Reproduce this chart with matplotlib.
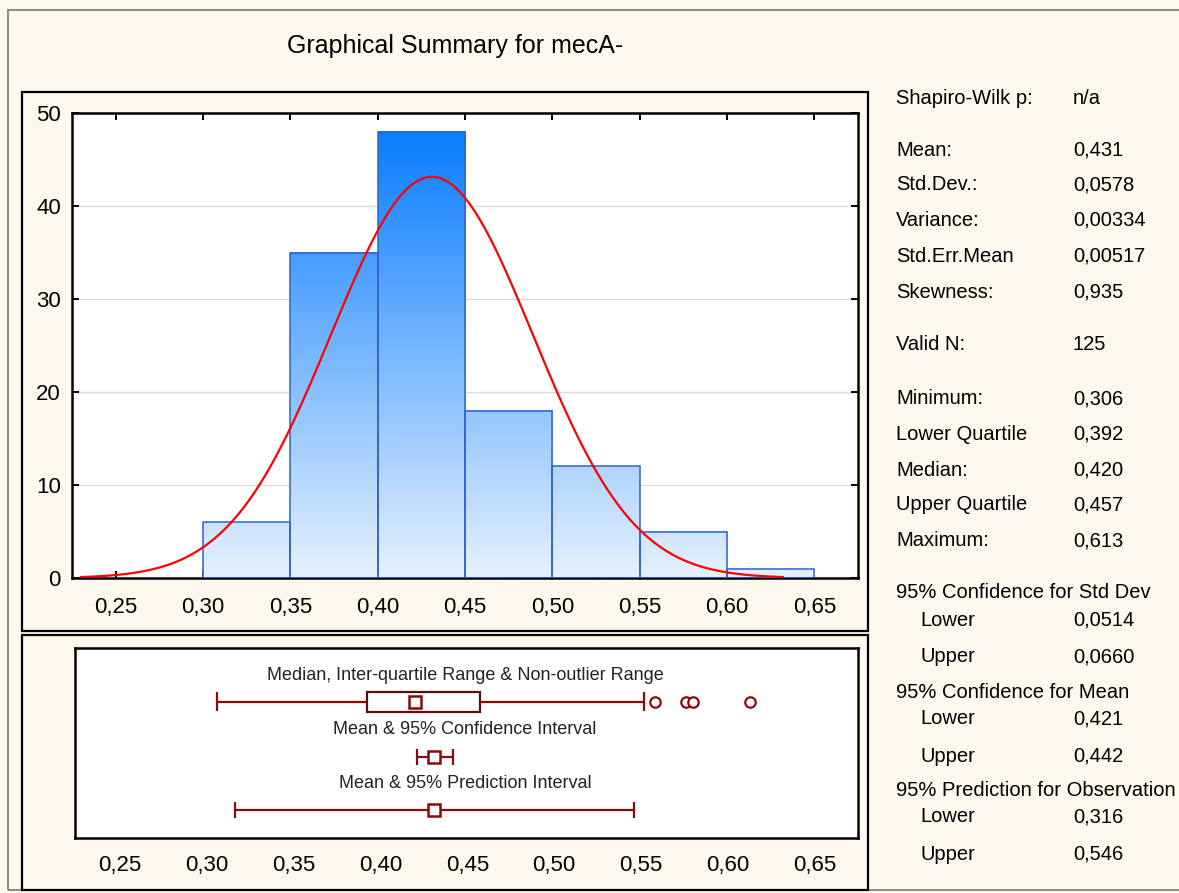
import numpy as np
import matplotlib.pyplot as plt
from matplotlib.patches import Rectangle
from matplotlib.colors import LinearSegmentedColormap
from matplotlib.ticker import FuncFormatter

plt.rcParams['font.family'] = ['Liberation Sans', 'DejaVu Sans']

# histogram data
bin_edges = [0.30, 0.35, 0.40, 0.45, 0.50, 0.55, 0.60, 0.65]
counts = [6, 35, 48, 18, 12, 5, 1]

mean = 0.431
std = 0.0578
n = 125

# box plot rows
q_min, q1, median, q3, whisk_hi = 0.306, 0.392, 0.420, 0.457, 0.552
outliers = [0.558, 0.576, 0.580, 0.613]
ci_mean = [0.421, 0.442]
pi_obs = [0.316, 0.546]

stat_labels = ["Shapiro-Wilk p:", "Mean:", "Std.Dev.:", "Variance:", "Std.Err.Mean",
               "Skewness:", "Valid N:", "Minimum:", "Lower Quartile", "Median:",
               "Upper Quartile", "Maximum:"]
stat_values = ["n/a", "0,431", "0,0578", "0,00334", "0,00517", "0,935", "125",
               "0,306", "0,392", "0,420", "0,457", "0,613"]
stat_rows = [96, 148, 183, 218, 254, 290, 343, 397, 432, 468, 503, 539]

ci_headers = ["95% Confidence for Std Dev", "95% Confidence for Mean",
              "95% Prediction for Observation"]
ci_lower = ["0,0514", "0,421", "0,316"]
ci_upper = ["0,0660", "0,442", "0,546"]
ci_rows = [591, 690, 788]

W, H = 1179, 893
BG = '#FDF8EE'
DARKRED = '#8B0A0A'


def px_axes(x0, y0, x1, y1):
    return [x0 / W, 1 - y1 / H, (x1 - x0) / W, (y1 - y0) / H]


def fy(y):
    return 1 - y / H


fig = plt.figure(figsize=(W / 100, H / 100), dpi=100, facecolor=BG)

# frames
frames = [((8, 10, 1190, 890), '#777777', 1.2),
          ((22, 92, 868, 631), 'black', 1.6),
          ((22, 635, 868, 890), 'black', 1.6)]
for (x0, y0, x1, y1), col, lw in frames:
    fig.add_artist(Rectangle((x0 / W, fy(y1)), (x1 - x0) / W, (y1 - y0) / H,
                             transform=fig.transFigure, fill=False,
                             edgecolor=col, linewidth=lw))

fig.text(455 / W, fy(43), "Graphical Summary for mecA-", ha='center',
         va='center_baseline', fontsize=18)

comma = FuncFormatter(lambda v, p: f"{v:.2f}".replace('.', ','))

# histogram
ax = fig.add_axes(px_axes(72, 113, 858, 578))
ax.set_facecolor('white')
cmap = LinearSegmentedColormap.from_list('bl', ['#E6F1FD', '#0A7DFF'])
top = max(counts)
for i, c in enumerate(counts):
    x0, x1 = bin_edges[i], bin_edges[i + 1]
    grad = np.linspace(c / top, 0, 200).reshape(-1, 1)
    ax.imshow(grad, extent=[x0, x1, 0, c], cmap=cmap, vmin=0, vmax=1,
              aspect='auto', zorder=2)
    ax.add_patch(Rectangle((x0, 0), x1 - x0, c, fill=False,
                           edgecolor='#2E62D2', linewidth=1.1, zorder=3))

xs = np.linspace(0.23, 0.632, 300)
pdf = n * 0.05 * np.exp(-0.5 * ((xs - mean) / std) ** 2) / (std * np.sqrt(2 * np.pi))
ax.plot(xs, pdf, color='red', linewidth=1.6, zorder=4)

ax.set_xlim(0.2249, 0.675)
ax.set_ylim(0, 50)
ax.set_xticks([0.25, 0.30, 0.35, 0.40, 0.45, 0.50, 0.55, 0.60, 0.65])
ax.set_yticks([0, 10, 20, 30, 40, 50])
ax.xaxis.set_major_formatter(comma)
ax.yaxis.grid(True, color='#DCDCDC', linewidth=1, zorder=0)
ax.set_axisbelow(True)
ax.tick_params(direction='in', length=5, width=1.4, labelsize=16,
               top=True, right=True)
ax.tick_params(axis='x', pad=14)
ax.tick_params(axis='y', pad=8)
for s in ax.spines.values():
    s.set_linewidth(1.8)

# box plot panel
bx = fig.add_axes(px_axes(75, 648, 858, 838))
bx.set_facecolor('white')
bx.set_xlim(0.2240, 0.675)
bx.set_ylim(0, 1)
bx.set_yticks([])
bx.set_xticks([0.25, 0.30, 0.35, 0.40, 0.45, 0.50, 0.55, 0.60, 0.65])
bx.xaxis.set_major_formatter(comma)
bx.tick_params(axis='x', length=0, pad=12, labelsize=16)
for s in bx.spines.values():
    s.set_linewidth(1.8)

r1, r2, r3 = 0.716, 0.426, 0.147
cap = 0.05
lw = 1.6
# median / IQR / non-outlier range
bx.hlines(r1, q_min, q1, color=DARKRED, linewidth=lw)
bx.hlines(r1, q3, whisk_hi, color=DARKRED, linewidth=lw)
bx.vlines([q_min, whisk_hi], r1 - cap, r1 + cap, color=DARKRED, linewidth=lw)
bx.add_patch(Rectangle((q1, r1 - 0.055), q3 - q1, 0.11, fill=False,
                       edgecolor='#5A0F0F', linewidth=lw))
bx.plot([median], [r1], marker='s', markersize=8, markerfacecolor='white',
        markeredgecolor=DARKRED, markeredgewidth=1.8, linestyle='none')
bx.plot(outliers, [r1] * len(outliers), marker='o', markersize=7.5,
        markerfacecolor='white', markeredgecolor=DARKRED, markeredgewidth=1.6,
        linestyle='none')
# mean & CI
bx.hlines(r2, ci_mean[0], ci_mean[1], color=DARKRED, linewidth=lw)
bx.vlines(ci_mean, r2 - cap * 0.8, r2 + cap * 0.8, color=DARKRED, linewidth=lw)
bx.plot([mean], [r2], marker='s', markersize=9, markerfacecolor='white',
        markeredgecolor=DARKRED, markeredgewidth=1.8, linestyle='none')
# mean & PI
bx.hlines(r3, pi_obs[0], pi_obs[1], color=DARKRED, linewidth=lw)
bx.vlines(pi_obs, r3 - cap * 0.8, r3 + cap * 0.8, color=DARKRED, linewidth=lw)
bx.plot([mean], [r3], marker='s', markersize=9, markerfacecolor='white',
        markeredgecolor=DARKRED, markeredgewidth=1.8, linestyle='none')

box_titles = ["Median, Inter-quartile Range & Non-outlier Range",
              "Mean & 95% Confidence Interval", "Mean & 95% Prediction Interval"]
for t, yy in zip(box_titles, [0.868, 0.584, 0.300]):
    bx.text(0.4486, yy, t, ha='center', va='center_baseline', fontsize=13,
            color='#222222')

# statistics text
fs = 14.5
for lab, val, y in zip(stat_labels, stat_values, stat_rows):
    fig.text(896 / W, fy(y), lab, ha='left', va='center_baseline', fontsize=fs)
    fig.text(1073 / W, fy(y), val, ha='left', va='center_baseline', fontsize=fs)
for head, lo, hi, y in zip(ci_headers, ci_lower, ci_upper, ci_rows):
    fig.text(896 / W, fy(y), head, ha='left', va='center_baseline', fontsize=fs)
    fig.text(920 / W, fy(y + 27), "Lower", ha='left', va='center_baseline', fontsize=fs)
    fig.text(1073 / W, fy(y + 27), lo, ha='left', va='center_baseline', fontsize=fs)
    fig.text(920 / W, fy(y + 64), "Upper", ha='left', va='center_baseline', fontsize=fs)
    fig.text(1073 / W, fy(y + 64), hi, ha='left', va='center_baseline', fontsize=fs)

fig.savefig('out.png', dpi=100, facecolor=BG)
